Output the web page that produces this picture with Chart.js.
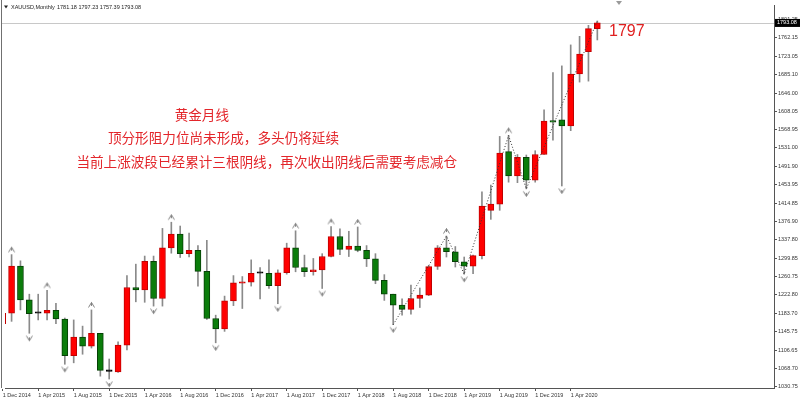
<!DOCTYPE html>
<html>
<head>
<meta charset="utf-8">
<script src="https://cdn.jsdelivr.net/npm/chart.js@4"></script>
<style>
  html, body { margin: 0; padding: 0; background: #fff; }
  #wrap { width: 800px; height: 401px; }
</style>
</head>
<body>
<div id="wrap"><canvas id="goldChart" width="800" height="401"></canvas></div>
<script>
// XAUUSD monthly candles, Dec 2014 .. Jul 2020
const months = [
  'Dec 2014', 'Jan 2015', 'Feb 2015', 'Mar 2015', 'Apr 2015', 'May 2015', 'Jun 2015', 'Jul 2015', 'Aug 2015', 'Sep 2015', 'Oct 2015', 'Nov 2015',
  'Dec 2015', 'Jan 2016', 'Feb 2016', 'Mar 2016', 'Apr 2016', 'May 2016', 'Jun 2016', 'Jul 2016', 'Aug 2016', 'Sep 2016', 'Oct 2016', 'Nov 2016',
  'Dec 2016', 'Jan 2017', 'Feb 2017', 'Mar 2017', 'Apr 2017', 'May 2017', 'Jun 2017', 'Jul 2017', 'Aug 2017', 'Sep 2017', 'Oct 2017', 'Nov 2017',
  'Dec 2017', 'Jan 2018', 'Feb 2018', 'Mar 2018', 'Apr 2018', 'May 2018', 'Jun 2018', 'Jul 2018', 'Aug 2018', 'Sep 2018', 'Oct 2018', 'Nov 2018',
  'Dec 2018', 'Jan 2019', 'Feb 2019', 'Mar 2019', 'Apr 2019', 'May 2019', 'Jun 2019', 'Jul 2019', 'Aug 2019', 'Sep 2019', 'Oct 2019', 'Nov 2019',
  'Dec 2019', 'Jan 2020', 'Feb 2020', 'Mar 2020', 'Apr 2020', 'May 2020', 'Jun 2020', 'Jul 2020'
];
const opens = [
  1162, 1184, 1283, 1212, 1184, 1184, 1190, 1172, 1095, 1134, 1115, 1142,
  1062, 1061, 1117, 1238, 1233, 1293, 1215, 1321, 1350, 1309, 1316, 1272,
  1173, 1151, 1210, 1247, 1249, 1268, 1268, 1242, 1269, 1321, 1280, 1271,
  1275, 1303, 1345, 1318, 1325, 1316, 1298, 1253, 1224, 1201, 1192, 1215,
  1222, 1282, 1321, 1313, 1292, 1283, 1305, 1400, 1413, 1523, 1472, 1511,
  1463, 1517, 1587, 1590, 1577, 1686, 1733, 1781.18
];
const highs = [
  1238, 1307, 1294, 1224, 1224, 1232, 1205, 1174, 1170, 1157, 1191, 1142,
  1088, 1124, 1263, 1287, 1304, 1304, 1362, 1375, 1367, 1352, 1326, 1337,
  1180, 1220, 1263, 1261, 1296, 1280, 1296, 1275, 1331, 1357, 1306, 1299,
  1309, 1366, 1361, 1356, 1365, 1326, 1309, 1265, 1224, 1214, 1243, 1237,
  1284, 1326, 1346, 1324, 1302, 1306, 1439, 1453, 1555, 1557, 1517, 1516,
  1525, 1611, 1689, 1703, 1747, 1765, 1788, 1797.23
];
const lows = [
  1142, 1167, 1191, 1142, 1170, 1170, 1162, 1077, 1080, 1098, 1111, 1052,
  1046, 1060, 1107, 1208, 1207, 1199, 1199, 1310, 1301, 1302, 1241, 1171,
  1122, 1146, 1200, 1194, 1241, 1214, 1236, 1204, 1266, 1271, 1261, 1264,
  1236, 1302, 1307, 1303, 1313, 1282, 1246, 1211, 1160, 1180, 1182, 1196,
  1221, 1276, 1302, 1281, 1266, 1267, 1298, 1381, 1400, 1459, 1458, 1445,
  1459, 1517, 1547, 1451, 1567, 1669, 1671, 1757.39
];
const closes = [
  1184, 1283, 1212, 1183, 1184, 1190, 1172, 1095, 1134, 1115, 1142, 1064,
  1062, 1117, 1238, 1233, 1293, 1215, 1321, 1350, 1309, 1316, 1272, 1173,
  1151, 1210, 1248, 1249, 1268, 1268, 1242, 1269, 1321, 1280, 1271, 1275,
  1303, 1345, 1318, 1325, 1316, 1298, 1253, 1224, 1201, 1192, 1215, 1222,
  1282, 1321, 1313, 1292, 1283, 1305, 1409, 1413, 1520, 1472, 1511, 1463,
  1517, 1587, 1585, 1577, 1686, 1728, 1781, 1793.08
];

// zigzag turning points (month index, price)
const zigzagIdx = [44, 50, 52, 57, 59, 67];
const zigzagVal = [1160, 1346, 1266, 1557, 1445, 1797.23];

// fractal marks
const upFractalIdx = [1, 5, 10, 19, 33, 37, 40, 50, 57];
const downFractalIdx = [3, 7, 12, 17, 24, 31, 36, 44, 52, 59, 63];

// axis labels
const xTickIdx = [0, 4, 8, 12, 16, 20, 24, 28, 32, 36, 40, 44, 48, 52, 56, 60, 64];
const xTickLabels = ['1 Dec 2014', '1 Apr 2015', '1 Aug 2015', '1 Dec 2015', '1 Apr 2016', '1 Aug 2016', '1 Dec 2016',
  '1 Apr 2017', '1 Aug 2017', '1 Dec 2017', '1 Apr 2018', '1 Aug 2018', '1 Dec 2018', '1 Apr 2019', '1 Aug 2019',
  '1 Dec 2019', '1 Apr 2020'];
const yTickVals = [1030.75, 1068.70, 1106.65, 1145.75, 1183.70, 1222.80, 1260.75, 1299.85, 1337.80, 1376.90,
  1414.85, 1453.95, 1491.90, 1531.00, 1568.95, 1608.05, 1646.00, 1685.10, 1723.05, 1762.15, 1801.25];

const lastPrice = 1793.08;
const headerText = 'XAUUSD,Monthly';
const headerValues = '1781.18 1797.23 1757.39 1793.08';
const noteLines = ['黄金月线', '顶分形阻力位尚未形成，多头仍将延续', '当前上涨波段已经累计三根阴线，再次收出阴线后需要考虑减仓'];
const priceNote = '1797';

// scale anchoring: where the first month and the lowest tick sit, and the scale steps
const yAnchor = { value: 1030.75, pixel: 386.3, perPx: 2.098 };
const xAnchor = { index: 0, pixel: 2.7, pxPerMonth: 8.875 };

const upColor = '#ff0000', downColor = '#0b7d0b';

function arrowImage(up) {
  const c = document.createElement('canvas');
  c.width = 9; c.height = 20;
  const g = c.getContext('2d');
  g.strokeStyle = '#808080';
  g.lineWidth = 1;
  g.beginPath();
  if (up) {
    g.moveTo(1.5, 7.5); g.lineTo(4.5, 2.5); g.lineTo(7.5, 7.5);
    g.moveTo(4.5, 2.5); g.lineTo(4.5, 6);
  } else {
    g.moveTo(1.5, 12.5); g.lineTo(4.5, 17.5); g.lineTo(7.5, 12.5);
    g.moveTo(4.5, 17.5); g.lineTo(4.5, 14);
  }
  g.stroke();
  return c;
}

function bodyColor(i) {
  if (closes[i] > opens[i]) return upColor;
  if (closes[i] < opens[i]) return downColor;
  return '#000000';
}
function bodyBorder(i) {
  if (closes[i] > opens[i]) return '#c00000';
  if (closes[i] < opens[i]) return '#064006';
  return '#000000';
}

const anchorScales = {
  id: 'anchorScales',
  afterLayout(chart) {
    const a = chart.chartArea, ys = chart.scales.y, xs = chart.scales.x;
    ys.min = yAnchor.value - (a.bottom - yAnchor.pixel) * yAnchor.perPx;
    ys.max = yAnchor.value + (yAnchor.pixel - a.top) * yAnchor.perPx;
    ys.configure();
    xs.min = xAnchor.index - (xAnchor.pixel - a.left) / xAnchor.pxPerMonth;
    xs.max = xs.min + (a.right - a.left) / xAnchor.pxPerMonth;
    xs.configure();
  }
};

const decor = {
  id: 'decor',
  beforeDraw(chart) {
    const ctx = chart.ctx;
    ctx.save();
    ctx.fillStyle = '#ffffff';
    ctx.fillRect(0, 0, chart.width, chart.height);
    ctx.restore();
  },
  beforeDatasetsDraw(chart) {
    const ctx = chart.ctx, a = chart.chartArea;
    const y = Math.round(chart.scales.y.getPixelForValue(lastPrice)) + 0.5;
    ctx.save();
    ctx.strokeStyle = '#c8c8c8';
    ctx.lineWidth = 1;
    ctx.beginPath();
    ctx.moveTo(2, y); ctx.lineTo(a.right, y);
    ctx.stroke();
    ctx.restore();
  },
  afterDraw(chart) {
    const ctx = chart.ctx, a = chart.chartArea;
    ctx.save();
    // frame
    ctx.strokeStyle = '#707070';
    ctx.lineWidth = 1;
    ctx.beginPath();
    ctx.moveTo(1.5, 0); ctx.lineTo(1.5, a.bottom);
    ctx.stroke();

    // current price label on the axis
    const y = chart.scales.y.getPixelForValue(lastPrice);
    ctx.fillStyle = '#000000';
    ctx.fillRect(a.right + 1, y - 4, 25, 8);
    ctx.fillStyle = '#ffffff';
    ctx.font = '5.5px "Liberation Sans", Arial, sans-serif';
    ctx.textBaseline = 'middle';
    ctx.textAlign = 'left';
    ctx.fillText(lastPrice.toFixed(2), a.right + 3, y);

    // header
    ctx.fillStyle = '#222222';
    ctx.beginPath();
    ctx.moveTo(4, 5.5); ctx.lineTo(8, 5.5); ctx.lineTo(6, 8.5);
    ctx.fill();
    ctx.font = '5.5px "Liberation Sans", Arial, sans-serif';
    ctx.fillText(headerText, 11, 7);
    ctx.fillText(headerValues, 57, 7);

    // chart shift marker at top
    ctx.fillStyle = '#9a9a9a';
    ctx.beginPath();
    ctx.moveTo(616, 1); ctx.lineTo(622, 1); ctx.lineTo(619, 5);
    ctx.fill();

    // notes
    ctx.fillStyle = '#e3262b';
    ctx.font = '13.6px "Noto Sans CJK SC", sans-serif';
    ctx.textAlign = 'right';
    ctx.fillText(noteLines[0], 229, 115);
    ctx.fillText(noteLines[1], 339, 138);
    ctx.fillText(noteLines[2], 457, 162);

    ctx.textAlign = 'left';
    ctx.font = '16px "Liberation Sans", Arial, sans-serif';
    ctx.fillStyle = '#e02020';
    ctx.fillText(priceNote, 609, 32);
    ctx.restore();
  }
};

const ctx = document.getElementById('goldChart').getContext('2d');
new Chart(ctx, {
  type: 'bar',
  data: {
    datasets: [{
      label: 'wick',
      data: months.map((m, i) => ({ x: i, y: [lows[i], highs[i]] })),
      backgroundColor: '#8a8a8a',
      barThickness: 1,
      grouped: false,
      order: 4
    }, {
      label: 'body',
      data: months.map((m, i) => ({ x: i, y: [opens[i], closes[i]] })),
      backgroundColor: months.map((m, i) => bodyColor(i)),
      borderColor: months.map((m, i) => bodyBorder(i)),
      borderWidth: 1,
      borderSkipped: false,
      barThickness: 6,
      minBarLength: 1.5,
      grouped: false,
      order: 3
    }, {
      type: 'line',
      label: 'zigzag',
      data: zigzagIdx.map((v, i) => ({ x: v, y: zigzagVal[i] })),
      borderColor: '#333333',
      borderWidth: 1,
      borderDash: [1, 2],
      pointRadius: 0,
      fill: false,
      order: 1
    }, {
      type: 'scatter',
      label: 'fractal up',
      data: upFractalIdx.map(i => ({ x: i, y: highs[i] })),
      pointStyle: arrowImage(true),
      order: 2
    }, {
      type: 'scatter',
      label: 'fractal down',
      data: downFractalIdx.map(i => ({ x: i, y: lows[i] })),
      pointStyle: arrowImage(false),
      order: 2
    }]
  },
  options: {
    responsive: false,
    animation: false,
    layout: { padding: { left: 2, right: 0, top: 0, bottom: 0 } },
    plugins: { legend: { display: false }, tooltip: { enabled: false } },
    scales: {
      x: {
        type: 'linear',
        offset: false,
        min: -0.079,
        max: 86.91,
        grid: { drawOnChartArea: false, tickLength: 3, color: '#555555', offset: false },
        border: { display: true, color: '#555555' },
        ticks: {
          align: 'start',
          autoSkip: false,
          maxRotation: 0,
          padding: 1,
          color: '#333333',
          font: { size: 5.5, family: '"Liberation Sans", Arial, sans-serif' },
          callback: (v) => xTickLabels[xTickIdx.indexOf(v)]
        },
        afterBuildTicks: (scale) => { scale.ticks = xTickIdx.map(v => ({ value: v })); },
        afterFit: (scale) => { scale.height = 13; }
      },
      y: {
        type: 'linear',
        position: 'right',
        min: 1027.2,
        max: 1841.2,
        grid: { drawOnChartArea: false, tickLength: 3, color: '#555555' },
        border: { display: true, color: '#555555' },
        ticks: {
          padding: 1,
          color: '#333333',
          font: { size: 5.5, family: '"Liberation Sans", Arial, sans-serif' },
          callback: (v) => v.toFixed(2)
        },
        afterBuildTicks: (scale) => { scale.ticks = yTickVals.map(v => ({ value: v })); },
        afterFit: (scale) => { scale.width = 26; }
      }
    }
  },
  plugins: [anchorScales, decor]
});
</script>
</body>
</html>
